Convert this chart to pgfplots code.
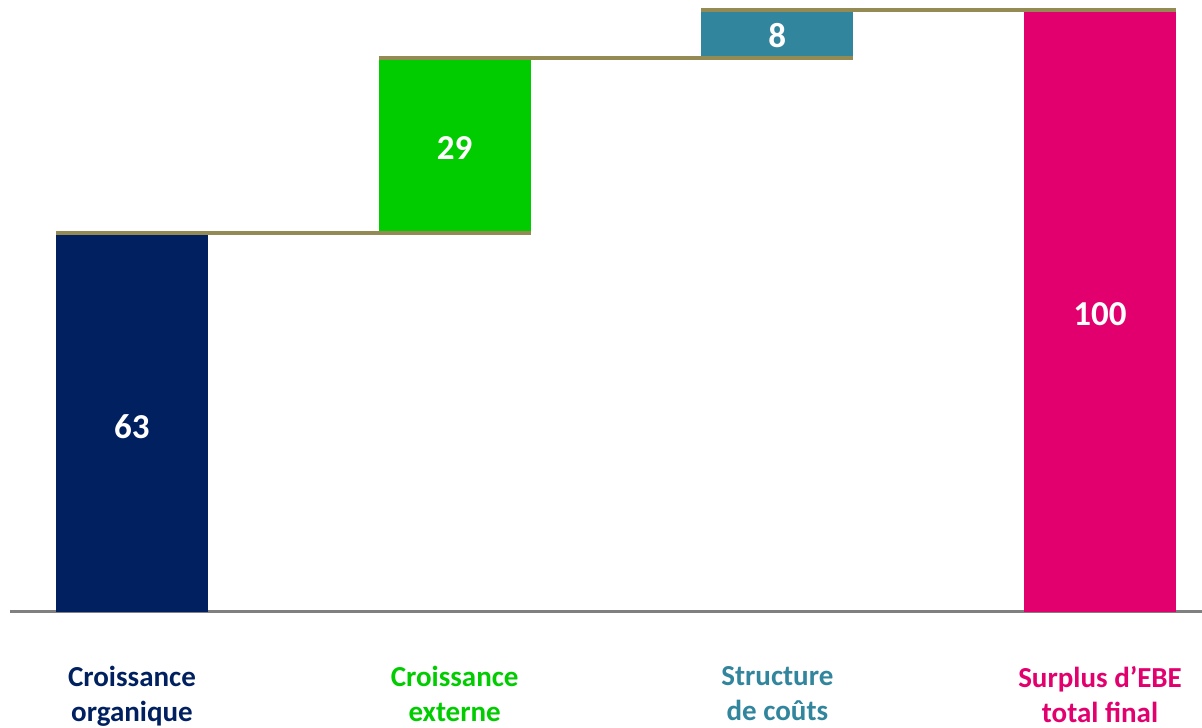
\documentclass[border=0pt]{standalone}
\usepackage{fontspec}
\setmainfont{Carlito}
\usepackage{pgfplots}
\pgfplotsset{compat=1.18}
\definecolor{cOrg}{HTML}{002060}
\definecolor{cExt}{HTML}{00CC00}
\definecolor{cStr}{HTML}{31859C}
\definecolor{cSur}{HTML}{E2006E}
\definecolor{cLink}{HTML}{948A54}
\definecolor{cAxis}{HTML}{808080}
\begin{document}
\begin{tikzpicture}
\begin{axis}[
  scale only axis,
  width=596pt, height=306pt,
  xmin=-0.378, xmax=3.316,
  ymin=0, ymax=101.66,
  axis x line=bottom,
  axis y line=none,
  x axis line style={draw=cAxis, line width=1.5pt, -},
  ytick=\empty,
  xtick={0,1,2,3},
  major tick length=0pt,
  xticklabels={
    {\textcolor{cOrg}{Croissance}\\\textcolor{cOrg}{organique}},
    {\textcolor{cExt}{Croissance}\\\textcolor{cExt}{externe}},
    {\textcolor{cStr}{Structure}\\\textcolor{cStr}{de coûts}},
    {\textcolor{cSur}{Surplus d’EBE}\\\textcolor{cSur}{total final}}
  },
  xticklabel style={align=center, anchor=north, yshift=-23.5pt,
    font=\fontsize{14.5}{17.5}\selectfont\bfseries},
  ybar stacked,
  bar width=0.471,
  clip=false,
]
% invisible base
\addplot[draw=none, fill=none] coordinates {(0,0) (1,63) (2,92) (3,0)};
\addplot[draw=none, fill=cOrg] coordinates {(0,63) (1,0) (2,0) (3,0)};
\addplot[draw=none, fill=cExt] coordinates {(0,0) (1,29) (2,0) (3,0)};
\addplot[draw=none, fill=cStr] coordinates {(0,0) (1,0) (2,8) (3,0)};
\addplot[draw=none, fill=cSur] coordinates {(0,0) (1,0) (2,0) (3,100)};
\end{axis}
\begin{axis}[
  scale only axis,
  width=596pt, height=306pt,
  xmin=-0.378, xmax=3.316,
  ymin=0, ymax=101.66,
  hide axis,
  clip=false,
]
% connectors
\addplot[cLink, line width=2pt] coordinates {(-0.2355,63) (1.2355,63)};
\addplot[cLink, line width=2pt] coordinates {(0.7645,92) (2.2355,92)};
\addplot[cLink, line width=2pt] coordinates {(1.7645,100) (3.2355,100)};
% value labels
\addplot[draw=none, nodes near coords, point meta=explicit symbolic,
  every node near coord/.append style={anchor=center, text=white,
    font=\fontsize{17.5}{20}\selectfont\bfseries}]
  coordinates {(0,30.8)[63] (1,77.1)[29] (2,95.8)[8] (3,49.5)[100]};
\end{axis}
\pgfresetboundingbox
\path (current axis.south west) ++(-5pt,-58pt) rectangle (current axis.north east);
\end{tikzpicture}
\end{document}
